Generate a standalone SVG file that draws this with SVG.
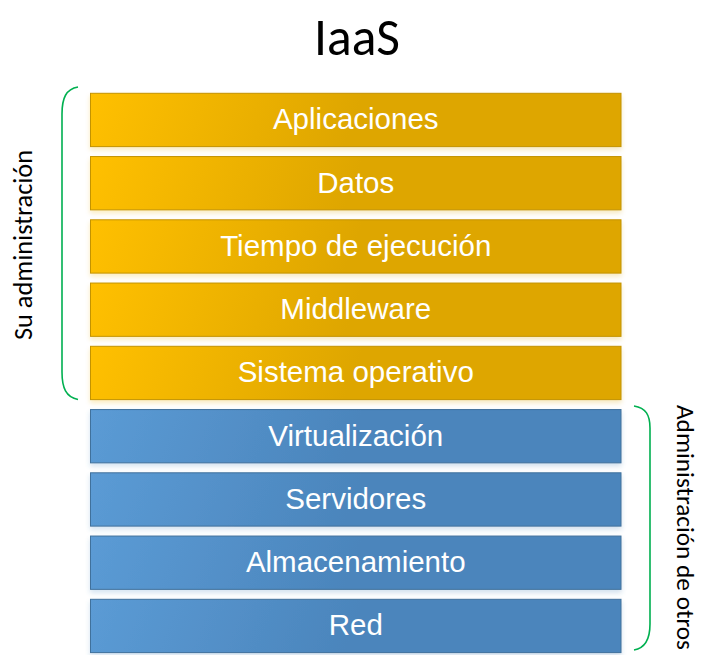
<svg xmlns="http://www.w3.org/2000/svg" width="701" height="655" viewBox="0 0 701 655">
  <style>
    .lbl { font-family: "Liberation Sans", Arial, sans-serif; font-size: 29.5px; fill: #ffffff; text-anchor: middle; }
    .side { font-family: Carlito, Lato, "Open Sans", sans-serif; font-size: 26px; fill: #000000; }
    .title { font-family: Carlito, Lato, "Open Sans", sans-serif; font-size: 53px; font-weight: 300; fill: #000000; text-anchor: middle; }
    .org { fill: url(#gOrange); stroke: #C39300; stroke-width: 1; filter: url(#soft); }
    .blu { fill: url(#gBlue); stroke: #41719C; stroke-width: 1; filter: url(#soft); }
    .br { fill: none; stroke: #00B050; stroke-width: 1.6; }
  </style>
  <defs>
    <linearGradient id="gOrange" gradientUnits="userSpaceOnUse" x1="0" y1="0" x2="240" y2="90">
      <stop offset="0" stop-color="#FFC000"/>
      <stop offset="1" stop-color="#DEA600"/>
    </linearGradient>
    <linearGradient id="gBlue" gradientUnits="userSpaceOnUse" x1="0" y1="0" x2="240" y2="90">
      <stop offset="0" stop-color="#5B9BD5"/>
      <stop offset="1" stop-color="#4B85BC"/>
    </linearGradient>
    <filter id="soft" x="-5%" y="-20%" width="110%" height="150%">
      <feGaussianBlur in="SourceGraphic" stdDeviation="2.5" result="b"/>
      <feOffset in="b" dy="3" result="o"/>
      <feComponentTransfer in="o" result="t">
        <feFuncA type="linear" slope="0.25"/>
      </feComponentTransfer>
      <feMerge>
        <feMergeNode in="t"/>
        <feMergeNode in="SourceGraphic"/>
      </feMerge>
    </filter>
  </defs>

  <rect width="701" height="655" fill="#ffffff"/>

  <text id="title" class="title" x="357" y="55" textLength="86" lengthAdjust="spacingAndGlyphs">IaaS</text>

  <g id="aplicaciones" transform="translate(90.5,93.3)">
    <rect class="org" x="0" y="0" width="530.5" height="53.3"/>
    <text class="lbl" x="265.25" y="36">Aplicaciones</text>
  </g>
  <g id="datos" transform="translate(90.5,156.55)">
    <rect class="org" x="0" y="0" width="530.5" height="53.3"/>
    <text class="lbl" x="265.25" y="36">Datos</text>
  </g>
  <g id="tiempo" transform="translate(90.5,219.8)">
    <rect class="org" x="0" y="0" width="530.5" height="53.3"/>
    <text class="lbl" x="265.25" y="36">Tiempo de ejecución</text>
  </g>
  <g id="middleware" transform="translate(90.5,283.05)">
    <rect class="org" x="0" y="0" width="530.5" height="53.3"/>
    <text class="lbl" x="265.25" y="36">Middleware</text>
  </g>
  <g id="so" transform="translate(90.5,346.3)">
    <rect class="org" x="0" y="0" width="530.5" height="53.3"/>
    <text class="lbl" x="265.25" y="36">Sistema operativo</text>
  </g>
  <g id="virtualizacion" transform="translate(90.5,409.55)">
    <rect class="blu" x="0" y="0" width="530.5" height="53.3"/>
    <text class="lbl" x="265.25" y="36">Virtualización</text>
  </g>
  <g id="servidores" transform="translate(90.5,472.8)">
    <rect class="blu" x="0" y="0" width="530.5" height="53.3"/>
    <text class="lbl" x="265.25" y="36">Servidores</text>
  </g>
  <g id="almacenamiento" transform="translate(90.5,536.05)">
    <rect class="blu" x="0" y="0" width="530.5" height="53.3"/>
    <text class="lbl" x="265.25" y="36">Almacenamiento</text>
  </g>
  <g id="red" transform="translate(90.5,599.3)">
    <rect class="blu" x="0" y="0" width="530.5" height="53.3"/>
    <text class="lbl" x="265.25" y="36">Red</text>
  </g>

  <g id="brackets">
    <path class="br" d="M78,87 C66,89 62,98 62,114 L62,372 C62,388 66,397 78,399.5"/>
    <path class="br" d="M634,406 C646,408 650,415 650,428 L650,624 C650,638 646,648 634,650"/>
  </g>

  <g id="side-labels">
    <text class="side" transform="translate(32,245) rotate(-90)" text-anchor="middle" textLength="190" lengthAdjust="spacingAndGlyphs">Su administración</text>
    <text class="side" transform="translate(677,405) rotate(90)" style="font-size:24px" textLength="245" lengthAdjust="spacingAndGlyphs">Administración de otros</text>
  </g>
</svg>
